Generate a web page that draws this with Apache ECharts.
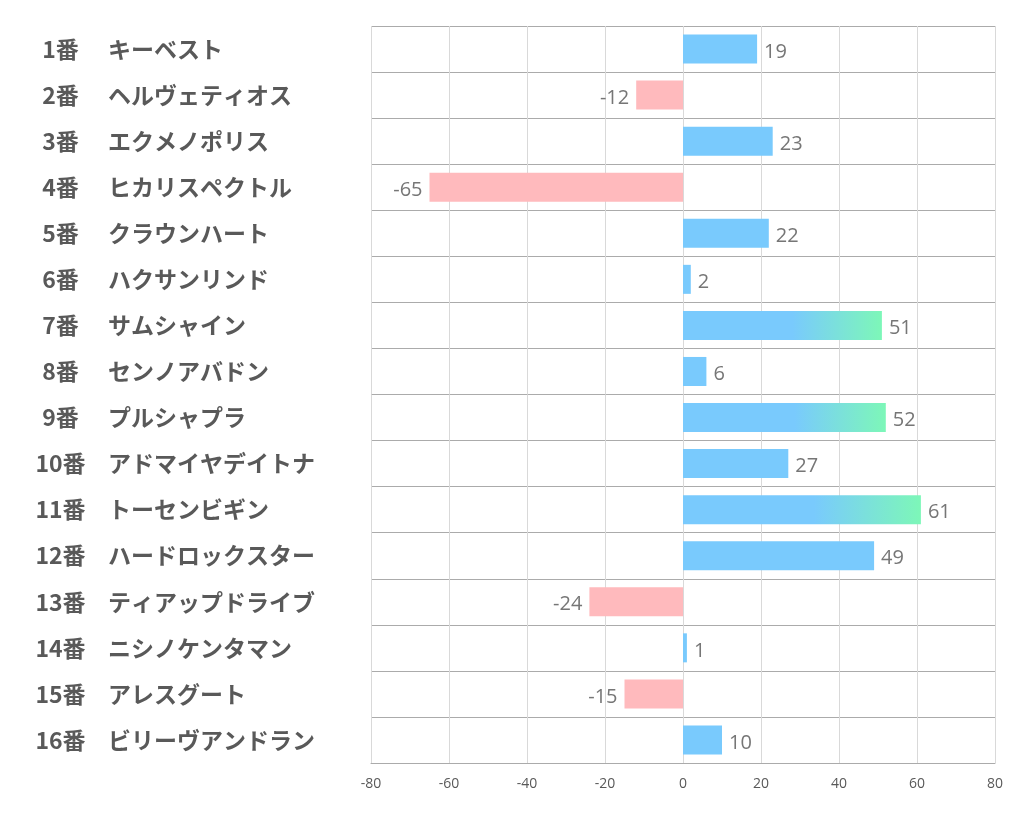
<!DOCTYPE html>
<html><head><meta charset="utf-8">
<script src="https://cdn.jsdelivr.net/npm/echarts@6/dist/echarts.min.js"></script>
<style>html,body{margin:0;padding:0;background:#fff}#c{width:1022px;height:834px}</style>
</head><body><div id="c"></div>
<script>
const numbers = ['1番','2番','3番','4番','5番','6番','7番','8番','9番','10番','11番','12番','13番','14番','15番','16番'];
const names = ['キーベスト','ヘルヴェティオス','エクメノポリス','ヒカリスペクトル','クラウンハート','ハクサンリンド','サムシャイン','センノアバドン','プルシャプラ','アドマイヤデイトナ','トーセンビギン','ハードロックスター','ティアップドライブ','ニシノケンタマン','アレスグート','ビリーヴアンドラン'];
const values = [19,-12,23,-65,22,2,51,6,52,27,61,49,-24,1,-15,10];
const xTicks = [-80,-60,-40,-20,0,20,40,60,80];

const categories = numbers.map((n,i)=>n+'|'+names[i]);
const BLUE='#79CAFD', PINK='#FFBABD', GREEN='#7DF7B8';
const chart = echarts.init(document.getElementById('c'));
const data = values.map(v=>{
  let color = v<0 ? PINK : BLUE;
  if (v>50) color = new echarts.graphic.LinearGradient(0,0,1,0,[{offset:0,color:BLUE},{offset:0.55,color:BLUE},{offset:1,color:GREEN}]);
  return {value:v, itemStyle:{color:color}, label:{position: v<0?'left':'right'}};
});
chart.setOption({
  animation:false,
  grid:{left:371,right:27,top:26,bottom:71,containLabel:false},
  xAxis:{type:'value',min:xTicks[0],max:xTicks[xTicks.length-1],interval:20,
    axisLine:{show:true,lineStyle:{color:'#ABABAB',width:1}},
    axisTick:{show:false},
    axisLabel:{color:'#595959',fontSize:14,margin:14,fontFamily:'"Open Sans","Noto Sans CJK JP",sans-serif'},
    splitLine:{show:true,lineStyle:{color:'#D9D9D9',width:1}}},
  yAxis:{type:'category',data:categories,inverse:true,
    axisLine:{show:false},axisTick:{show:false},
    splitLine:{show:true,lineStyle:{color:'#ABABAB',width:1}},
    axisLabel:{align:'left',margin:336,
      formatter:function(v){const p=v.split('|');return '{n|'+p[0]+'}{s|'+p[1]+'}';},
      rich:{
        n:{width:51,align:'right',fontSize:23,fontWeight:'bold',color:'#595959',fontFamily:'"Noto Sans CJK JP",sans-serif',padding:[0,22,0,0]},
        s:{fontSize:23,fontWeight:'bold',color:'#595959',fontFamily:'"Noto Sans CJK JP",sans-serif'}
      }}},
  series:[{type:'bar',data:data,barWidth:'63%',
    label:{show:true,distance:7,offset:[0,3],color:'#767676',fontSize:20,fontFamily:'"Open Sans","Noto Sans CJK JP",sans-serif'}}]
});
</script></body></html>
